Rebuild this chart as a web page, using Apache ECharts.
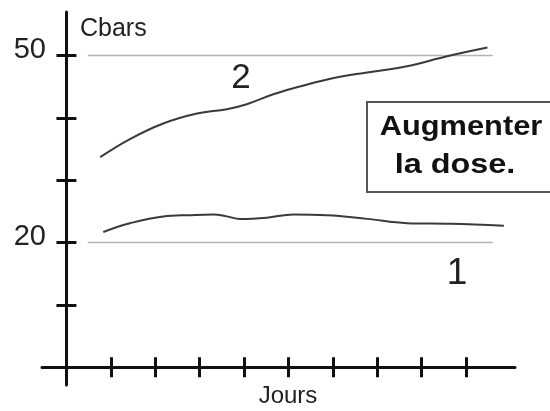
<!DOCTYPE html>
<html>
<head>
<meta charset="utf-8">
<script src="https://cdn.jsdelivr.net/npm/echarts@6/dist/echarts.min.js"></script>
<style>
  html, body { margin: 0; padding: 0; background: #fff; }
  #chart { width: 550px; height: 411px; }
</style>
</head>
<body>
<div id="chart"></div>
<script>
// curve 1 (flat dose) and curve 2 (rising)
const days1 = [0.83, 1.43, 2.18, 2.79, 3.31, 3.61, 3.91, 4.51, 5.11, 5.87, 6.77, 7.67, 8.65, 9.85]
const cbars1 = [21.7, 23.1, 24.2, 24.4, 24.5, 24.2, 23.8, 24.0, 24.5, 24.4, 23.8, 23.1, 23.0, 22.7]
const days2 = [0.76, 1.43, 2.18, 2.94, 3.61, 4.06, 4.66, 5.34, 6.02, 6.77, 7.67, 8.57, 9.48]
const cbars2 = [33.7, 36.6, 39.1, 40.7, 41.4, 42.2, 43.8, 45.2, 46.4, 47.3, 48.3, 49.9, 51.3]
// thin grey guide lines
const refLevels = [20, 50]
const refSpan = [0.48, 9.6]
// ticks
const dayTicks = [0, 1, 2, 3, 4, 5, 6, 7, 8, 9]
const cbarTicks = [10, 20, 30, 40, 50]
const cbarLabels = [20, 50]

const zip = (xs, ys) => xs.map((x, i) => [x, ys[i]])

const axisColor = '#111'
const textColor = '#222'

function xAxisDef(inside) {
    return {
        type: 'value', position: 'bottom', min: -0.55, max: 10.1,
        axisLine: { show: !inside, onZero: true, onZeroAxisIndex: 0, lineStyle: { color: axisColor, width: 3 } },
        axisTick: { show: true, inside: inside, customValues: dayTicks, length: 10, lineStyle: { color: axisColor, width: 3 } },
        axisLabel: { show: false },
        splitLine: { show: false }
    }
}
function yAxisDef(inside) {
    return {
        type: 'value', position: 'left', min: -2.86, max: 57,
        axisLine: { show: !inside, onZero: true, onZeroAxisIndex: 0, lineStyle: { color: axisColor, width: 3 } },
        axisTick: { show: true, inside: inside, customValues: cbarTicks, length: 10, lineStyle: { color: axisColor, width: 3 } },
        axisLabel: {
            show: !inside, customValues: cbarLabels, margin: -4, verticalAlign: 'bottom', lineHeight: 12,
            fontFamily: 'Liberation Sans', fontSize: 29, color: textColor
        },
        splitLine: { show: false }
    }
}

const series = refLevels.map(v => ({
    type: 'line', data: zip(refSpan, [v, v]), symbol: 'none',
    lineStyle: { color: '#b4b4b4', width: 1.5 }, silent: true
}))
series.push({
    type: 'line', data: zip(days1, cbars1), symbol: 'none', smooth: 0.4,
    lineStyle: { color: '#3a3a3a', width: 2 }
})
series.push({
    type: 'line', data: zip(days2, cbars2), symbol: 'none', smooth: 0.4,
    lineStyle: { color: '#3a3a3a', width: 2 }
})

const font = (size, weight) => (weight || 'normal') + ' ' + size + 'px "Liberation Sans", Arial, sans-serif'

const option = {
    animation: false,
    backgroundColor: '#fff',
    grid: { left: 42, right: 35, top: 12, bottom: 26, outerBoundsMode: 'none' },
    xAxis: [xAxisDef(false), xAxisDef(true)],
    yAxis: [yAxisDef(false), yAxisDef(true)],
    series: series,
    graphic: [
        { type: 'text', x: 80, y: 29, style: { text: 'Cbars', font: font(25), fill: textColor, textVerticalAlign: 'middle' } },
        { type: 'text', x: 288, y: 396, style: { text: 'Jours', font: font(24), fill: textColor, textAlign: 'center', textVerticalAlign: 'middle' } },
        { type: 'text', x: 241, y: 78, style: { text: '2', font: font(35), fill: textColor, textAlign: 'center', textVerticalAlign: 'middle' } },
        { type: 'text', x: 457, y: 274, style: { text: '1', font: font(37), fill: textColor, textAlign: 'center', textVerticalAlign: 'middle' } },
        // note box, runs off the right edge
        { type: 'rect', shape: { x: 367, y: 102, width: 220, height: 90 }, style: { fill: '#fff', stroke: '#555', lineWidth: 2 } },
        { type: 'text', x: 461, y: 128, scaleX: 1.14, style: { text: 'Augmenter', font: font(27, 'bold'), fill: '#111', textAlign: 'center', textVerticalAlign: 'middle' } },
        { type: 'text', x: 455, y: 166, scaleX: 1.2, style: { text: 'la dose.', font: font(27, 'bold'), fill: '#111', textAlign: 'center', textVerticalAlign: 'middle' } }
    ]
}

const chart = echarts.init(document.getElementById('chart'))
chart.setOption(option)
</script>
</body>
</html>
